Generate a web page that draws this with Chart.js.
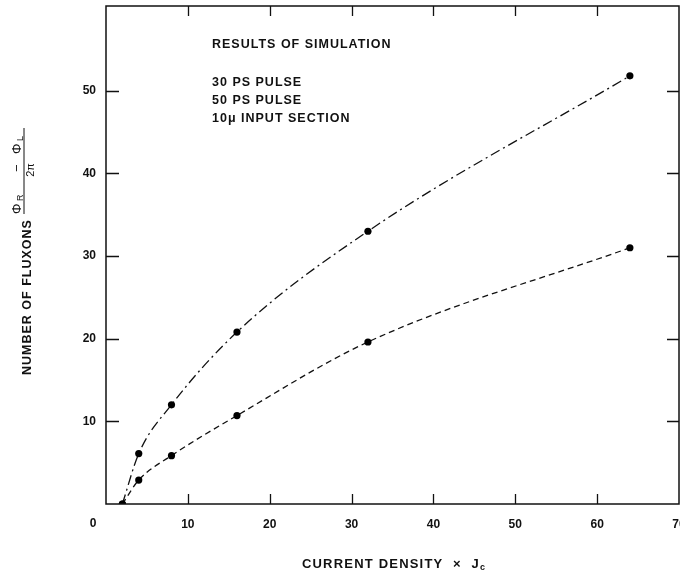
<!DOCTYPE html>
<html><head><meta charset="utf-8">
<script src="https://cdn.jsdelivr.net/npm/chart.js@4/dist/chart.umd.min.js"></script>
<style>html,body{margin:0;padding:0;background:#fff}#wrap{width:680px;height:571px}</style>
</head><body><div id="wrap"><canvas id="c" width="680" height="571"></canvas></div>
<script>
// ---- data ----
const currentDensity = [2, 4, 8, 16, 32, 64];
const fluxonsUpper = [0, 6.1, 12.0, 20.8, 33.0, 51.8];   // dash-dot curve
const fluxonsLower = [0, 2.9, 5.85, 10.7, 19.6, 31.0];   // dashed curve
const xTickValues = [0, 10, 20, 30, 40, 50, 60, 70];
const yTickValues = [10, 20, 30, 40, 50];
const noteLines = ['RESULTS OF SIMULATION', '30 PS PULSE', '50 PS PULSE', '10\u03BC INPUT SECTION'];
const xTitle = 'CURRENT DENSITY  \u00D7  J';
const xTitleSub = 'c';
const yTitle = 'NUMBER OF FLUXONS';

const INK = '#111';
const FONT = '"Liberation Sans", Arial, Helvetica, sans-serif';

const toPoints = ys => currentDensity.map((x, i) => ({x, y: ys[i]}));

const framePlugin = {
  id: 'frame',
  afterDraw(chart) {
    const {ctx, chartArea: a, scales: {x, y}} = chart;
    ctx.save();
    ctx.strokeStyle = INK;
    ctx.lineWidth = 1.5;
    ctx.strokeRect(a.left, a.top, a.right - a.left, a.bottom - a.top);
    ctx.lineWidth = 1.3;
    ctx.beginPath();
    xTickValues.forEach(v => {
      if (v === 0 || v === 70) return;
      const px = Math.round(x.getPixelForValue(v)) + 0.5;
      ctx.moveTo(px, a.bottom); ctx.lineTo(px, a.bottom - 10);
      ctx.moveTo(px, a.top); ctx.lineTo(px, a.top + 10);
    });
    yTickValues.forEach(v => {
      const py = Math.round(y.getPixelForValue(v)) + 0.5;
      ctx.moveTo(a.left, py); ctx.lineTo(a.left + 13, py);
      ctx.moveTo(a.right, py); ctx.lineTo(a.right - 12, py);
    });
    ctx.stroke();

    ctx.fillStyle = INK;
    ctx.textBaseline = 'alphabetic';
    // corner zero label
    ctx.font = 'bold 12px ' + FONT;
    ctx.textAlign = 'center';
    ctx.fillText('0', 93, 527);

    // annotation block
    ctx.textAlign = 'left';
    ctx.letterSpacing = '1px';
    ctx.font = 'bold 12.5px ' + FONT;
    const noteY = [47.5, 85.5, 103.5, 122];
    noteLines.forEach((t, i) => ctx.fillText(t, 212, noteY[i]));

    // x title
    ctx.letterSpacing = '1.2px';
    ctx.font = 'bold 13px ' + FONT;
    const w1 = ctx.measureText(xTitle).width;
    ctx.font = 'bold 9px ' + FONT;
    const w2 = ctx.measureText(xTitleSub).width;
    const cx = 394 - (w1 + w2) / 2;
    ctx.font = 'bold 13px ' + FONT;
    ctx.fillText(xTitle, cx, 568);
    ctx.font = 'bold 9px ' + FONT;
    ctx.fillText(xTitleSub, cx + w1, 570);

    // y title (rotated)
    ctx.save();
    ctx.translate(31, 375);
    ctx.rotate(-Math.PI / 2);
    ctx.letterSpacing = '1px';
    ctx.font = 'bold 12.5px ' + FONT;
    ctx.fillText(yTitle, 0, 0);
    ctx.letterSpacing = '0px';
    const fx = 161;
    // numerator: Phi_R - Phi_L
    const parts = [['\u03A6', 13, 0, -10], ['R', 9, 13, -8], ['\u2212', 13, 42, -10], ['\u03A6', 13, 60, -10], ['L', 9, 73, -8]];
    parts.forEach(([t, s, dx, by]) => {
      ctx.font = s + 'px ' + FONT;
      ctx.fillText(t, fx + dx, by);
    });
    ctx.lineWidth = 1;
    ctx.beginPath();
    ctx.moveTo(fx, -7); ctx.lineTo(fx + 86, -7);
    ctx.stroke();
    ctx.font = '11px ' + FONT;
    ctx.textAlign = 'center';
    ctx.fillText('2\u03C0', fx + 44, 3);
    ctx.restore();
    ctx.restore();
  }
};

new Chart(document.getElementById('c'), {
  type: 'line',
  data: {
    datasets: [
      {
        label: 'upper',
        data: toPoints(fluxonsUpper),
        borderColor: INK, borderWidth: 1.3, borderDash: [10, 4, 2, 4],
        pointRadius: 3.6, pointBackgroundColor: '#000', pointBorderWidth: 0,
        cubicInterpolationMode: 'monotone', fill: false
      },
      {
        label: 'lower',
        data: toPoints(fluxonsLower),
        borderColor: INK, borderWidth: 1.3, borderDash: [6, 4],
        pointRadius: 3.6, pointBackgroundColor: '#000', pointBorderWidth: 0,
        cubicInterpolationMode: 'monotone', fill: false
      }
    ]
  },
  options: {
    responsive: false, animation: false, devicePixelRatio: 1,
    layout: {autoPadding: false, padding: {top: 6, right: 1, left: 0, bottom: 0}},
    plugins: {legend: {display: false}, tooltip: {enabled: false}},
    scales: {
      x: {
        type: 'linear', min: 0, max: 70,
        grid: {display: false, drawTicks: false}, border: {display: false},
        ticks: {stepSize: 10, padding: 13, color: INK, font: {family: FONT, size: 12, weight: 'bold'},
          callback: v => (xTickValues.includes(v) && v !== 0) ? String(v) : ''},
        afterFit: s => { s.height = 67; s.paddingLeft = 0; s.paddingRight = 0; }
      },
      y: {
        type: 'linear', min: 0, max: 60.25,
        grid: {display: false, drawTicks: false}, border: {display: false},
        ticks: {stepSize: 10, padding: 10, color: INK, font: {family: FONT, size: 12, weight: 'bold'},
          callback: v => yTickValues.includes(v) ? String(v) : ''},
        afterFit: s => { s.width = 106; s.paddingTop = 0; s.paddingBottom = 0; }
      }
    }
  },
  plugins: [framePlugin]
});
</script>
</body></html>
